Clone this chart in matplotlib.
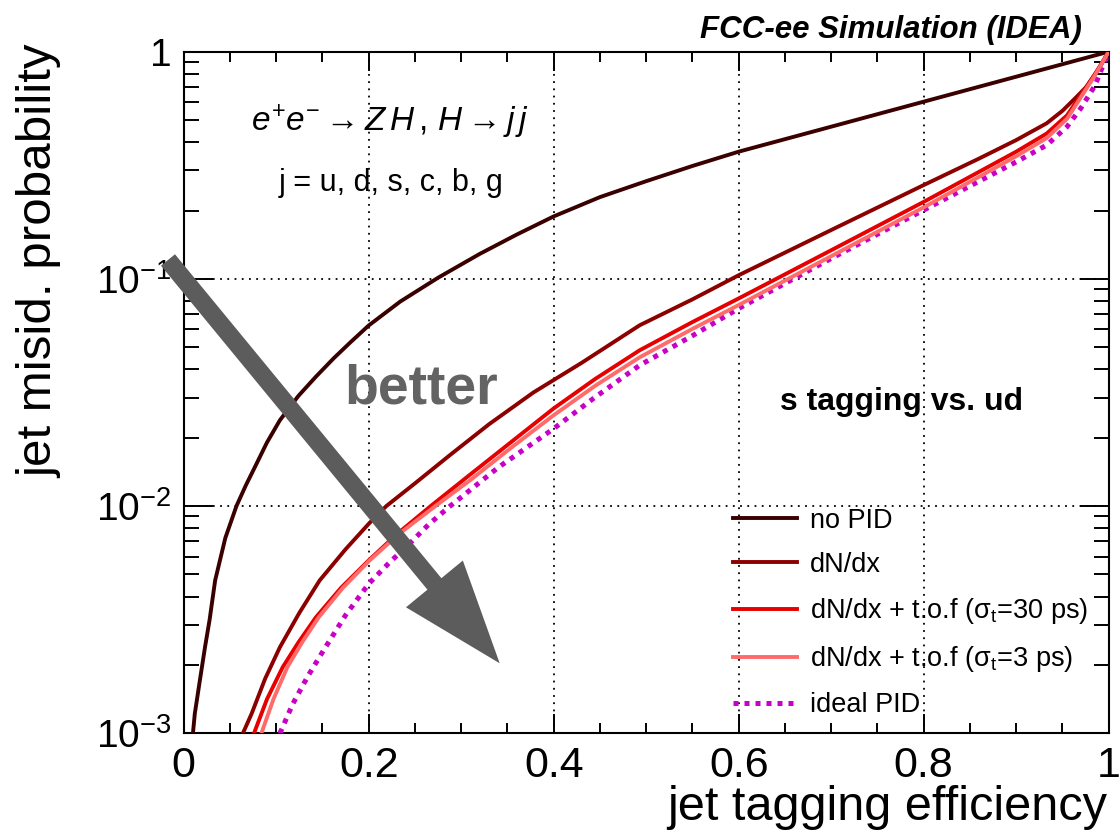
import matplotlib
matplotlib.use('agg')
import matplotlib.pyplot as plt
from matplotlib.ticker import LogLocator, NullFormatter, MultipleLocator

# values (efficiency, misid probability)
eff_nopid = [0.0085, 0.010, 0.012, 0.017, 0.023, 0.028, 0.034, 0.045, 0.057, 0.067, 0.077, 0.090,
             0.104, 0.124, 0.143, 0.162, 0.180, 0.20, 0.234, 0.275, 0.32, 0.36, 0.40, 0.45,
             0.50, 0.55, 0.60, 0.70, 0.80, 0.90, 0.95, 1.0]
mis_nopid = [0.0009, 0.0010, 0.00122, 0.00166, 0.00239, 0.00316, 0.00471, 0.00724, 0.0100, 0.0123,
             0.01486, 0.01905, 0.02388, 0.03055, 0.03715, 0.04467, 0.05248, 0.06237, 0.07943,
             0.1012, 0.1288, 0.1567, 0.1884, 0.2291, 0.2692, 0.3141, 0.3631, 0.4677, 0.6026,
             0.7762, 0.881, 1.0]

eff_dndx = [0.060, 0.064, 0.0735, 0.088, 0.104, 0.125, 0.147, 0.175, 0.20, 0.219, 0.25, 0.288,
            0.33, 0.378, 0.43, 0.493, 0.55, 0.60, 0.70, 0.80, 0.86, 0.90, 0.933, 0.95, 0.965,
            0.976, 0.99, 1.0]
mis_dndx = [0.0009, 0.0010, 0.001222, 0.001738, 0.002393, 0.003388, 0.00471, 0.006457, 0.008356,
            0.0100, 0.01259, 0.01679, 0.02291, 0.03162, 0.04266, 0.06252, 0.08128, 0.1038,
            0.1641, 0.2588, 0.3388, 0.4083, 0.4842, 0.5495, 0.6310, 0.7015, 0.8511, 1.0]

eff_tof30 = [0.072, 0.076, 0.090, 0.107, 0.124, 0.143, 0.170, 0.20, 0.230, 0.267, 0.31, 0.355,
             0.40, 0.445, 0.493, 0.55, 0.60, 0.70, 0.80, 0.90, 0.933, 0.955, 0.97, 0.985, 1.0]
mis_tof30 = [0.0009, 0.0010, 0.001413, 0.001954, 0.002512, 0.003243, 0.004365, 0.005768,
             0.007499, 0.0100, 0.0138, 0.01928, 0.02692, 0.03631, 0.04853, 0.06457, 0.08204,
             0.1337, 0.2183, 0.3631, 0.4365, 0.5248, 0.6457, 0.7943, 1.0]

eff_tof3 = [0.080, 0.084, 0.097, 0.112, 0.128, 0.146, 0.172, 0.201, 0.232, 0.272, 0.31, 0.355,
            0.40, 0.445, 0.493, 0.55, 0.60, 0.70, 0.80, 0.90, 0.933, 0.955, 0.97, 0.985, 1.0]
mis_tof3 = [0.0009, 0.0010, 0.001413, 0.001954, 0.002512, 0.003243, 0.004365, 0.005768,
            0.007499, 0.0100, 0.01303, 0.0182, 0.02512, 0.03388, 0.04519, 0.06026, 0.07674,
            0.1259, 0.2065, 0.3467, 0.4169, 0.507, 0.631, 0.7852, 1.0]

eff_ideal = [0.100, 0.104, 0.118, 0.134, 0.151, 0.175, 0.20, 0.222, 0.244, 0.265, 0.288, 0.34,
             0.40, 0.445, 0.493, 0.55, 0.60, 0.70, 0.80, 0.90, 0.933, 0.955, 0.97, 0.985, 1.0]
mis_ideal = [0.0009, 0.0010, 0.001349, 0.001778, 0.002312, 0.003311, 0.00455, 0.005623,
             0.006823, 0.008318, 0.0100, 0.01479, 0.02193, 0.0302, 0.04169, 0.05623, 0.07413,
             0.123, 0.2009, 0.3273, 0.3882, 0.4677, 0.5649, 0.7079, 1.0]

labels = ['no PID', 'dN/dx', r'dN/dx + t.o.f (σ$_\mathrm{t}$=30 ps)',
          r'dN/dx + t.o.f (σ$_\mathrm{t}$=3 ps)', 'ideal PID']
colors = ['#3a0000', '#8c0000', '#e60000', '#ff6b6b', '#c800c8']

xticks = [0, 0.2, 0.4, 0.6, 0.8, 1.0]
xticklabels = ['0', '0.2', '0.4', '0.6', '0.8', '1']
yticks = [1e-3, 1e-2, 1e-1, 1]
yticklabels = [r'$10^{-3}$', r'$10^{-2}$', r'$10^{-1}$', '1']

plt.rcParams['font.family'] = ['Liberation Sans', 'DejaVu Sans']
plt.rcParams['mathtext.fontset'] = 'custom'
plt.rcParams['mathtext.rm'] = 'Liberation Sans'
plt.rcParams['mathtext.it'] = 'Liberation Sans:italic'
plt.rcParams['mathtext.bf'] = 'Liberation Sans:bold'

fig = plt.figure(figsize=(11.2, 8.32), dpi=100)
ax = fig.add_axes([183.7 / 1120, 1 - 733.3 / 832, 925 / 1120, 681.6 / 832])

series = [(eff_nopid, mis_nopid), (eff_dndx, mis_dndx), (eff_tof30, mis_tof30),
          (eff_tof3, mis_tof3), (eff_ideal, mis_ideal)]
for i, (x, y) in enumerate(series):
    if i == 4:
        ax.plot(x, y, color=colors[i], lw=3.6, ls=(0, (1, 1.2)), label=labels[i],
                dash_capstyle='butt', zorder=3)
    else:
        ax.plot(x, y, color=colors[i], lw=2.8, label=labels[i], zorder=3 + i * 0.1)

ax.set_yscale('log')
ax.set_xlim(0, 1)
ax.set_ylim(1e-3, 1)

ax.set_xticks(xticks, labels=xticklabels)
ax.set_yticks(yticks, labels=yticklabels)
ax.xaxis.set_minor_locator(MultipleLocator(0.05))
ax.yaxis.set_minor_locator(LogLocator(base=10, subs=range(2, 10)))
ax.yaxis.set_minor_formatter(NullFormatter())

ax.tick_params(which='both', direction='in', top=True, right=True, width=1.4)
ax.xaxis.set_tick_params(which='major', length=14, pad=9)
ax.xaxis.set_tick_params(which='minor', length=7)
ax.yaxis.set_tick_params(which='major', length=21, pad=9)
ax.yaxis.set_tick_params(which='minor', length=11)
for lab in ax.get_xticklabels():
    lab.set_fontsize(31)
for lab in ax.get_yticklabels():
    lab.set_fontsize(28)
for sp in ax.spines.values():
    sp.set_linewidth(1.5)

ax.grid(which='major', color='black', ls=(0, (1, 3)), lw=1.3)

leg = ax.legend(loc='upper left', bbox_to_anchor=(0.594, 0.331), frameon=False,
                fontsize=19.5, handlelength=2.36, handletextpad=0.48,
                labelspacing=0.67, borderpad=0, borderaxespad=0)

ax.text(0.223, 0.897, r'$e^{+}e^{-} \rightarrow Z\,H\,,\,H \rightarrow j\,j$',
        transform=ax.transAxes, ha='center', va='center', fontsize=24)
ax.text(0.224, 0.807, 'j = u, d, s, c, b, g', transform=ax.transAxes,
        ha='center', va='center', fontsize=22)
ax.text(0.776, 0.486, 's tagging vs. ud', transform=ax.transAxes,
        ha='center', va='center', fontsize=23, fontweight='bold')
ax.text(0.257, 0.505, 'better', transform=ax.transAxes, ha='center',
        va='center', fontsize=40, fontweight='bold', color='#636363')

ax.annotate('', xy=(499.7, 832 - 663.3), xytext=(168, 832 - 260),
            xycoords='figure pixels', textcoords='figure pixels',
            arrowprops=dict(arrowstyle='simple,head_length=74,head_width=53,tail_width=13',
                            mutation_scale=1, fc='#5c5c5c', ec='none',
                            shrinkA=0, shrinkB=0),
            annotation_clip=False, zorder=10)

fig.text(1082 / 1120, 1 - 30 / 832, 'FCC-ee Simulation (IDEA)', ha='right',
         va='center', fontsize=22.5, fontweight='bold', fontstyle='italic')
fig.text(40 / 1120, 1 - 45 / 832, 'jet misid. probability', rotation=90,
         ha='center', va='top', fontsize=35.5)
fig.text(1107 / 1120, 1 - 808 / 832, 'jet tagging efficiency', ha='right',
         va='center', fontsize=35)

fig.savefig('out.png', dpi=100)
